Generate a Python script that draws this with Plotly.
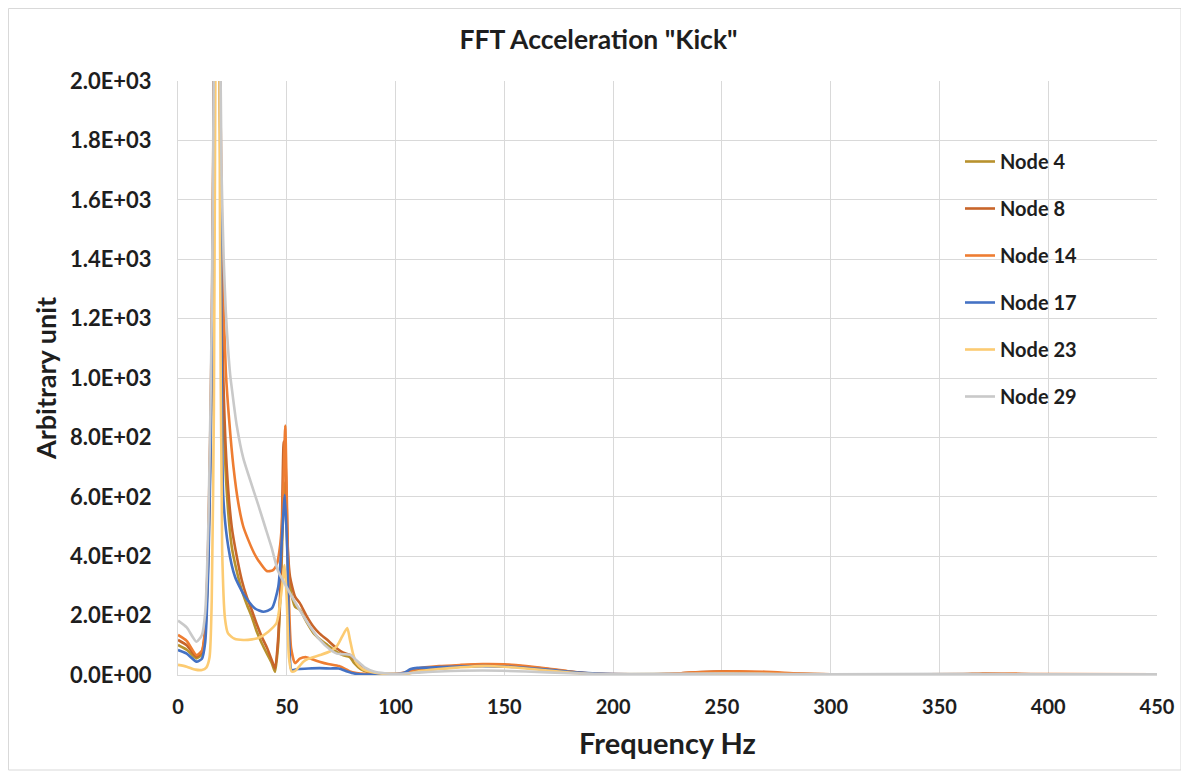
import plotly.graph_objects as go

# ---------------- data ----------------
node_names = ["Node 4", "Node 8", "Node 14", "Node 17", "Node 23", "Node 29"]

node4_freq = [0, 4, 8.5, 11, 12.5, 14, 15.5, 16.5, 17.5, 19, 20.5, 22.4, 24.7, 27, 29.3, 31.5, 33.9, 36, 38.5, 41, 43.1,
              44.6, 46, 47.5, 48.6, 49.3, 50.3, 51.5, 53.8, 56, 59, 62.2, 65.3, 68.3, 72.9, 76, 79, 81, 84, 88, 92,
              100, 105, 110, 120, 130, 140, 150, 160, 170, 180, 190, 200, 250, 300, 450]
node4_vals = [101, 85, 56, 70, 140, 420, 1050, 1950, 3300, 2100, 1000, 620, 432, 350, 286, 240, 196, 150, 107, 70, 40,
              11, 100, 350, 600, 650, 420, 300, 230, 220, 180, 142, 120, 103, 78, 66, 60, 40, 20, 8, 4,
              3, 4, 15, 22, 28, 31, 30, 25, 18, 10, 4, 2, 4, 2, 2]

node8_freq = [0, 4, 8.5, 11, 12.5, 14, 15.5, 16.5, 17.5, 19, 20.5, 22.4, 24.7, 27, 29.3, 31.5, 33.9, 36, 38.5, 41, 43.1,
              44.6, 46, 47.5, 48.6, 49.5, 50.5, 51.5, 53.8, 56, 59, 62, 65, 68.3, 72.9, 76, 79, 81.3, 83, 85.2, 88,
              92, 100, 105, 110, 120, 130, 140, 150, 160, 170, 180, 190, 200, 228, 240, 255, 270, 280, 300, 400, 450]
node8_vals = [118, 100, 62, 78, 150, 450, 1100, 2000, 3400, 2200, 1100, 700, 499, 400, 320, 265, 219, 175, 129, 90, 50,
              22, 120, 400, 786, 700, 420, 330, 264, 242, 200, 165, 140, 120, 90, 75, 68, 52, 40, 25, 12,
              5, 3, 5, 18, 26, 32, 35, 34, 28, 20, 12, 5, 2, 4, 10, 12, 8, 5, 2, 2, 2]

node14_freq = [0, 4, 8.5, 11, 12.5, 14, 15.5, 16.5, 17.5, 19, 20.5, 22, 23.5, 25.5, 27.7, 30, 32.3, 35, 37, 40.8, 43.5,
               45.5, 47, 48, 48.7, 49.3, 50, 51, 52, 53.8, 56, 59, 62, 65, 69, 74, 77, 79, 82, 86, 90,
               100, 105, 110, 120, 130, 140, 150, 160, 170, 180, 190, 200, 225, 235, 250, 270, 285, 300, 360, 370, 400, 450]
node14_vals = [135, 115, 67, 82, 160, 480, 1150, 2050, 3500, 2300, 1350, 1020, 860, 700, 580, 500, 455, 410, 385, 350, 352,
               375, 440, 540, 700, 840, 600, 250, 90, 40, 55, 60, 52, 45, 37, 30, 20, 12, 7, 4, 3,
               3, 10, 22, 30, 34, 37, 36, 30, 22, 12, 5, 3, 3, 8, 12, 11, 5, 2, 3, 6, 3, 2]

node17_freq = [0, 4, 8.5, 11, 12.5, 14, 15.5, 16.5, 17.5, 19, 20, 20.8, 23.1, 26.2, 30.8, 35.4, 39.2, 43.1, 46.1, 48, 49.1,
               50.3, 51.2, 52.2, 55, 60, 65, 70, 73.9, 77.8, 81, 84, 90, 100, 104, 107, 110, 115, 125, 140, 155,
               170, 185, 200, 220, 226, 232, 250, 300, 400, 445, 450]
node17_vals = [84, 72, 45, 55, 110, 380, 1000, 1900, 3400, 2400, 1100, 600, 432, 331, 264, 224, 213, 224, 297, 488, 606,
               400, 100, 17, 20, 22, 23, 22, 22, 12, 5, 2, 2, 2, 8, 20, 24, 25, 28, 30, 27,
               18, 8, 3, 2, 0, 2, 3, 2, 2, 0, 0]

node23_freq = [0, 4, 8, 11, 13, 14.5, 15.5, 16.5, 17.5, 18.5, 19.3, 20.3, 21.6, 23, 26, 30, 34, 37, 41.5, 45.3,
               47.3, 49, 50, 51, 52.2, 54, 57.6, 60, 65.3, 70, 72.9, 75.5, 77.8, 79, 80.5, 82.1, 85, 88, 92, 100,
               105, 110, 120, 130, 140, 150, 160, 170, 180, 190, 200, 210, 250, 300, 320, 340, 360, 400, 450]
node23_vals = [34, 28, 18, 17, 25, 60, 250, 900, 2500, 3000, 1500, 420, 190, 140, 122, 118, 120, 125, 146, 175,
               264, 370, 250, 60, 12, 15, 45, 55, 67, 80, 96, 130, 158, 120, 70, 40, 20, 12, 6, 2,
               3, 12, 20, 26, 30, 28, 22, 15, 8, 3, 1, 0, 5, 1, 0, 0, 2, 1, 1]

node29_freq = [0, 4, 8.5, 11, 12.5, 14, 15.5, 16.5, 17.5, 19, 20, 21, 22, 23, 24, 25, 27, 30, 33, 37, 40, 43, 46, 50,
               55, 61, 65, 70, 73, 76, 79, 82, 86, 90, 95, 100, 110, 120, 140, 160, 180, 200, 250, 300,
               360, 400, 450]
node29_vals = [183, 160, 112, 135, 210, 520, 1200, 2100, 3500, 2500, 1700, 1400, 1220, 1100, 1010, 950, 840, 730, 660, 570, 500, 430, 350, 295,
               230, 160, 120, 85, 72, 70, 68, 50, 25, 12, 6, 4, 8, 12, 15, 12, 6, 3, 5, 2,
               4, 2, 2]

node_colors = ["#B8922E", "#C8652A", "#EE7D32", "#4472C4", "#FCCB72", "#C9C9C9"]

y_tick_vals = [0, 200, 400, 600, 800, 1000, 1200, 1400, 1600, 1800, 2000]
y_tick_text = [f"{v:.1E}" for v in y_tick_vals]
x_tick_vals = [0, 50, 100, 150, 200, 250, 300, 350, 400, 450]

# ---------------- figure ----------------
freqs = [node4_freq, node8_freq, node14_freq, node17_freq, node23_freq, node29_freq]
vals = [node4_vals, node8_vals, node14_vals, node17_vals, node23_vals, node29_vals]

FONT = "Lato, 'Open Sans', sans-serif"
TXT = "#1E1E1E"

W, H = 1181, 770          # page body has an 8 px margin
L, R, T, B = 170, 32, 73, 103
PW, PH = W - L - R, H - T - B

fig = go.Figure()
for name, fx, fy, col in zip(node_names, freqs, vals, node_colors):
    fig.add_trace(go.Scatter(
        x=fx, y=fy, name=name, mode="lines", legendgroup=name,
        line=dict(color=col, width=2.6, shape="spline", smoothing=0.6),
    ))

fig.update_layout(
    width=W, height=H,
    margin=dict(l=L, r=R, t=T, b=B),
    paper_bgcolor="white", plot_bgcolor="white",
    font=dict(family=FONT, color=TXT),
    title=dict(text='<b>FFT Acceleration "Kick"</b>', x=0.5, xref="container", xanchor="center",
               y=1 - 32 / H, yref="container", yanchor="middle",
               font=dict(family=FONT, size=26.5, color=TXT)),
    legend=dict(x=(957 - 5 - L) / PW, y=1 - (134 - T) / PH, xanchor="left", yanchor="top",
                bgcolor="rgba(0,0,0,0)",
                font=dict(family=FONT, size=20, color=TXT, weight="bold"), tracegroupgap=18,
                itemwidth=30),
    showlegend=True,
)

fig.update_xaxes(
    range=[0, 450], tickvals=x_tick_vals, ticktext=[f"<b>{v}</b>" for v in x_tick_vals],
    showgrid=True, gridcolor="#D9D9D9", gridwidth=1, zeroline=False,
    showline=True, linecolor="#D9D9D9", linewidth=1, ticks="", ticklabelstandoff=14,
    tickfont=dict(family=FONT, size=20, color=TXT),
    title=dict(text="<b>Frequency Hz</b>", font=dict(family=FONT, size=29, color=TXT), standoff=16),
)
fig.update_yaxes(
    range=[0, 2000], tickvals=y_tick_vals, ticktext=[f"<b>{t}</b>" for t in y_tick_text],
    showgrid=True, gridcolor="#D9D9D9", gridwidth=1, zeroline=False,
    showline=True, linecolor="#D9D9D9", linewidth=1, ticks="", ticklabelstandoff=21,
    tickfont=dict(family=FONT, size=22, color=TXT),
    title=dict(text="<b>Arbitrary unit</b>", font=dict(family=FONT, size=27, color=TXT), standoff=5),
)

# outer chart border
fig.add_shape(type="rect", xref="paper", yref="paper",
              x0=(0.5 - L) / PW, x1=(1173 - L) / PW,
              y0=(PH + T - 762) / PH, y1=(PH + T - 0.5) / PH,
              line=dict(color="#D9D9D9", width=1), fillcolor="rgba(0,0,0,0)", layer="below")

fig.write_html("out.html")
